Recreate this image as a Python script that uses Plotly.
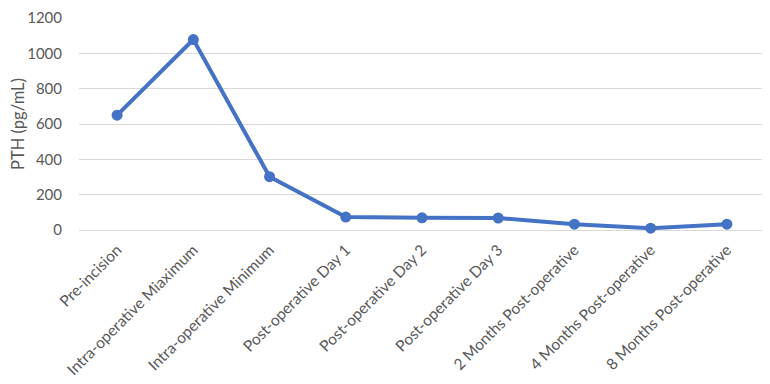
import plotly.graph_objects as go

categories = ["Pre-incision", "Intra-operative Miaximum", "Intra-operative Minimum",
              "Post-operative Day 1", "Post-operative Day 2", "Post-operative Day 3",
              "2 Months Post-operative", "4 Months Post-operative", "8 Months Post-operative"]
pth_values = [650, 1078, 302, 73, 69, 68, 33, 10, 33]
y_ticks = [0, 200, 400, 600, 800, 1000, 1200]

fig = go.Figure(go.Scatter(
    x=categories, y=pth_values, mode="lines+markers",
    line=dict(color="#4472C4", width=4),
    marker=dict(color="#4472C4", size=11),
    cliponaxis=False,
))

fig.update_layout(
    width=770, height=384,
    margin=dict(l=71, r=13, t=10, b=162),
    paper_bgcolor="white", plot_bgcolor="white",
    font=dict(family="Lato, Open Sans, sans-serif", color="#595959", size=15),
    showlegend=False,
)
fig.update_xaxes(
    type="category", range=[-0.5, 8.5], tickangle=-45, automargin=False,
    showgrid=False, showline=False, ticks="", tickfont=dict(size=15.5),
    ticklabelstandoff=7,
)
fig.update_yaxes(
    range=[0, 1200], tickvals=y_ticks, showgrid=True, gridcolor="#D9D9D9", gridwidth=1,
    zeroline=True, zerolinecolor="#D9D9D9", zerolinewidth=1, ticks="", automargin=False,
    title=dict(text="PTH (pg/mL)", font=dict(size=16.5), standoff=0),
    tickfont=dict(size=15), ticklabelstandoff=16, ticklabeloverflow="allow",
)

fig.write_html("out.html")
